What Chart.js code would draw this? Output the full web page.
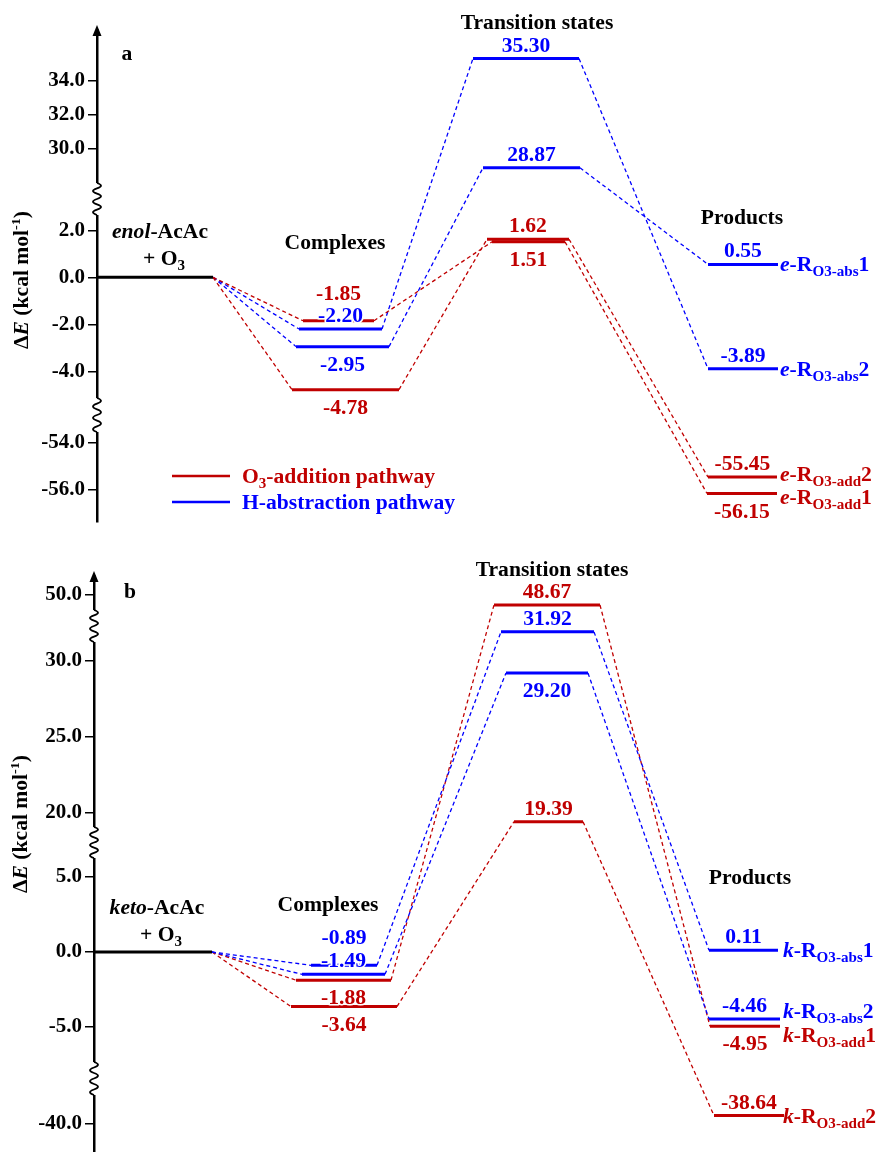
<!DOCTYPE html>
<html>
<head>
<meta charset="utf-8">
<script src="https://cdn.jsdelivr.net/npm/chart.js@4.4.1/dist/chart.umd.min.js"></script>
<style>
html, body { margin: 0; padding: 0; background: #fff; width: 882px; height: 1152px; overflow: hidden; }
canvas { position: absolute; left: 0; }
#chartA { top: 0; }
#chartB { top: 545px; }
</style>
</head>
<body>
<canvas id="chartA" width="882" height="545"></canvas>
<canvas id="chartB" width="882" height="640"></canvas>
<script>
// relative energies (kcal/mol), reactants at 0
const reactantE = 0;

// panel a: enol-AcAc + O3, one entry per channel (complex -> TS -> product)
const pathA = ['add', 'add', 'abs', 'abs'];
const complexA = [-1.85, -4.78, -2.20, -2.95];
const tsA = [1.51, 1.62, 35.30, 28.87];
const productA = [-56.15, -55.45, -3.89, 0.55];
const productNoA = [1, 2, 2, 1];
const ticksA = [34, 32, 30, 2, 0, -2, -4, -54, -56];

// panel b: keto-AcAc + O3
const pathB = ['abs', 'abs', 'add', 'add'];
const complexB = [-0.89, -1.49, -1.88, -3.64];
const tsB = [31.92, 29.20, 48.67, 19.39];
const productB = [0.11, -4.46, -4.95, -38.64];
const productNoB = [1, 2, 1, 2];
const ticksB = [50, 30, 25, 20, 5, 0, -5, -40];

const RED = '#C00000';
const BLUE = '#0000FF';
const SERIF = '"Liberation Serif", "Times New Roman", serif';
const SX = 1.08; // the original lettering is a bit wide
const F = {
    bold: 'bold 20px ' + SERIF,
    italic: 'italic bold 20px ' + SERIF,
    sub: 'bold 14px ' + SERIF,
    sup: 'bold 13px ' + SERIF
};

// broken axis: each piece maps energy -> page y linearly
function makeMap(segs) {
    return function (v) {
        const s = segs.find(g => v >= g.min && v < g.max);
        return s.y - s.k * (v - s.ref);
    };
}

const panelA = {
    canvas: 'chartA', top: 0, height: 545,
    axisX: 97, areaTop: 30, areaBottom: 522,
    toY: makeMap([
        { min: -Infinity, max: -20, ref: -54, y: 443, k: 23.5 },
        { min: -20, max: 20, ref: 0, y: 277.3, k: 23.5 },
        { min: 20, max: Infinity, ref: 32, y: 114.6, k: 17 }
    ]),
    ticks: ticksA, path: pathA, complex: complexA, ts: tsA, product: productA, productNo: productNoA,
    prefix: 'e', reactant: 'enol',
    reactantSpan: [97, 213],
    complexSpan: [[303, 374], [292, 399], [299, 382], [296, 389]],
    tsSpan: [[492, 565], [487, 569], [473, 579], [483, 580]],
    productSpan: [[707, 777], [708, 777], [708, 778], [708, 778]],
    complexSide: [-1, 1, -1, 1],
    tsSide: [1, -1, -1, -1],
    productSide: [1, -1, -1, -1],
    complexDy: [-14, 0, 0, 0],
    nameX: 780, nameDy: [3, -3, 0, 0],
    breaks: [[183, 215], [398, 432]],
    letter: ['a', 127, 60],
    titleX: 21, titleY: 280,
    heads: [['Transition states', 537, 29], ['Complexes', 335, 249], ['Products', 742, 224]],
    reactantX: 160, reactantY: 238,
    legend: true
};

const panelB = {
    canvas: 'chartB', top: 545, height: 640,
    axisX: 94, areaTop: 576, areaBottom: 1165,
    toY: makeMap([
        { min: -Infinity, max: -20, ref: -40, y: 1123.7, k: 6 },
        { min: -20, max: 12, ref: 0, y: 952, k: 15 },
        { min: 12, max: 40, ref: 25, y: 736.7, k: 15.15 },
        { min: 40, max: Infinity, ref: 50, y: 595, k: 7.5 }
    ]),
    ticks: ticksB, path: pathB, complex: complexB, ts: tsB, product: productB, productNo: productNoB,
    prefix: 'k', reactant: 'keto',
    reactantSpan: [94, 212],
    complexSpan: [[311, 377], [302, 385], [296, 391], [291, 397]],
    tsSpan: [[501, 594], [506, 588], [494, 600], [514, 583]],
    productSpan: [[709, 778], [709, 780], [710, 780], [714, 784]],
    complexSide: [-1, -1, 1, 1],
    tsSide: [-1, 1, -1, -1],
    productSide: [-1, -1, 1, -1],
    complexDy: [-14, 0, 0, 0],
    nameX: 783, nameDy: [0, -8, 9, 0],
    breaks: [[610, 642], [827, 858], [1062, 1095]],
    letter: ['b', 130, 598],
    titleX: 20, titleY: 824,
    heads: [['Transition states', 552, 576], ['Complexes', 328, 911], ['Products', 750, 884]],
    reactantX: 157, reactantY: 914,
    legend: false
};

function rich(ctx, runs, x, y, align, color, halo) {
    let w = 0;
    runs.forEach(r => { ctx.font = r[1]; w += ctx.measureText(r[0]).width; });
    ctx.save();
    ctx.translate(align === 'center' ? x - w * SX / 2 : x, y);
    ctx.scale(SX, 1);
    ctx.fillStyle = color;
    ctx.textAlign = 'left';
    ctx.textBaseline = 'alphabetic';
    let cx = 0;
    runs.forEach(r => {
        ctx.font = r[1];
        if (halo) {
            ctx.strokeStyle = '#fff';
            ctx.lineWidth = 3;
            ctx.lineJoin = 'round';
            ctx.strokeText(r[0], cx, r[2] || 0);
        }
        ctx.fillText(r[0], cx, r[2] || 0);
        cx += ctx.measureText(r[0]).width;
    });
    ctx.restore();
}

function decorate(chart, p) {
    const ctx = chart.ctx;
    const xs = chart.scales.x;
    const ys = chart.scales.y;
    const ax = chart.chartArea.left;
    const top = chart.chartArea.top;
    const cy = y => y - p.top;

    ctx.save();
    // axis breaks
    p.breaks.forEach(b => {
        const y0 = cy(b[0]), y1 = cy(b[1]);
        ctx.fillStyle = '#fff';
        ctx.fillRect(ax - 4, y0, 8, y1 - y0);
        ctx.beginPath();
        ctx.moveTo(ax, y0);
        const n = 6, h = (y1 - y0) / n;
        for (let k = 0; k < n; k++) {
            ctx.quadraticCurveTo(ax + (k % 2 ? -8 : 8), y0 + h * (k + 0.5), ax, y0 + h * (k + 1));
        }
        ctx.strokeStyle = '#000';
        ctx.lineWidth = 1.8;
        ctx.stroke();
    });
    // arrow head
    ctx.fillStyle = '#000';
    ctx.beginPath();
    ctx.moveTo(ax, top - 5);
    ctx.lineTo(ax - 4.5, top + 6);
    ctx.lineTo(ax + 4.5, top + 6);
    ctx.closePath();
    ctx.fill();
    ctx.restore();

    // energy labels and product names
    const yOf = v => ys.getPixelForValue(p.toY(v));
    const midX = s => xs.getPixelForValue((s[0] + s[1]) / 2);
    const put = (span, v, side, dy, col) => {
        const y = yOf(v) + (side < 0 ? -7 : 24) + (dy || 0);
        rich(ctx, [[v.toFixed(2), F.bold]], midX(span), y, 'center', col, true);
    };
    p.complex.forEach((c, i) => {
        const col = p.path[i] === 'add' ? RED : BLUE;
        put(p.complexSpan[i], c, p.complexSide[i], p.complexDy[i], col);
        put(p.tsSpan[i], p.ts[i], p.tsSide[i], 0, col);
        put(p.productSpan[i], p.product[i], p.productSide[i], 0, col);
        rich(ctx, [
            [p.prefix, F.italic], ['-R', F.bold],
            ['O3-' + p.path[i], F.sub, 5], [String(p.productNo[i]), F.bold]
        ], xs.getPixelForValue(p.nameX), yOf(p.product[i]) + 7 + p.nameDy[i], 'left', col);
    });

    // headings
    p.heads.forEach(h => rich(ctx, [[h[0], F.bold]], h[1], cy(h[2]), 'center', '#000'));
    rich(ctx, [[p.letter[0], F.bold]], p.letter[1], cy(p.letter[2]), 'center', '#000');
    rich(ctx, [[p.reactant, F.italic], ['-AcAc', F.bold]], p.reactantX, cy(p.reactantY), 'center', '#000');
    rich(ctx, [['+ O', F.bold], ['3', F.sub, 5]], p.reactantX + 4, cy(p.reactantY + 27), 'center', '#000');

    // y title, rotated
    ctx.save();
    ctx.translate(p.titleX, cy(p.titleY));
    ctx.rotate(-Math.PI / 2);
    rich(ctx, [['Δ', F.bold], ['E', F.italic], [' (kcal mol', F.bold], ['-1', F.sup, -8], [')', F.bold]],
        0, 7, 'center', '#000');
    ctx.restore();

    if (p.legend) {
        const items = [
            [RED, [['O', F.bold], ['3', F.sub, 5], ['-addition pathway', F.bold]], 476],
            [BLUE, [['H-abstraction pathway', F.bold]], 502]
        ];
        items.forEach(it => {
            ctx.save();
            ctx.strokeStyle = it[0];
            ctx.lineWidth = 2.5;
            ctx.beginPath();
            ctx.moveTo(172, cy(it[2]));
            ctx.lineTo(230, cy(it[2]));
            ctx.stroke();
            ctx.restore();
            rich(ctx, it[1], 242, cy(it[2]) + 7, 'left', it[0]);
        });
    }
}

function drawPanel(p) {
    const datasets = [];
    const seg = (x0, v0, x1, v1, color, dashed) => datasets.push({
        data: [{ x: x0, y: p.toY(v0) }, { x: x1, y: p.toY(v1) }],
        borderColor: color,
        borderWidth: dashed ? 1.3 : 3,
        borderDash: dashed ? [4, 3] : [],
        order: dashed ? 2 : 1
    });

    seg(p.reactantSpan[0], reactantE, p.reactantSpan[1], reactantE, '#000', false);
    p.complex.forEach((c, i) => {
        const col = p.path[i] === 'add' ? RED : BLUE;
        const cs = p.complexSpan[i], ts = p.tsSpan[i], ps = p.productSpan[i];
        seg(cs[0], c, cs[1], c, col, false);
        seg(ts[0], p.ts[i], ts[1], p.ts[i], col, false);
        seg(ps[0], p.product[i], ps[1], p.product[i], col, false);
        seg(p.reactantSpan[1], reactantE, cs[0], c, col, true);
        seg(cs[1], c, ts[0], p.ts[i], col, true);
        seg(ts[1], p.ts[i], ps[0], p.product[i], col, true);
    });

    return new Chart(document.getElementById(p.canvas), {
        type: 'line',
        data: { datasets: datasets },
        options: {
            responsive: false,
            animation: false,
            layout: { padding: { top: p.areaTop - p.top, bottom: p.top + p.height - p.areaBottom, left: 0, right: 0 } },
            elements: { point: { radius: 0 }, line: { tension: 0, borderCapStyle: 'butt' } },
            plugins: { legend: { display: false }, tooltip: { enabled: false } },
            scales: {
                x: { type: 'linear', display: false, min: p.axisX, max: 882 },
                y: {
                    type: 'linear',
                    reverse: true,
                    bounds: 'data',
                    min: p.areaTop,
                    max: p.areaBottom,
                    afterFit: s => { s.width = p.axisX; },
                    afterBuildTicks: s => { s.ticks = p.ticks.map(v => ({ value: p.toY(v) })); },
                    ticks: {
                        autoSkip: false,
                        padding: 3,
                        color: '#000',
                        font: { family: SERIF, size: 21, weight: 'bold' },
                        callback: (val, i) => p.ticks[i].toFixed(1)
                    },
                    grid: { drawOnChartArea: false, tickLength: 9, color: '#000', lineWidth: 1.5 },
                    border: { color: '#000', width: 2.5 }
                }
            }
        },
        plugins: [{ id: 'decor', afterDraw: chart => decorate(chart, p) }]
    });
}

drawPanel(panelA);
drawPanel(panelB);
</script>
</body>
</html>
